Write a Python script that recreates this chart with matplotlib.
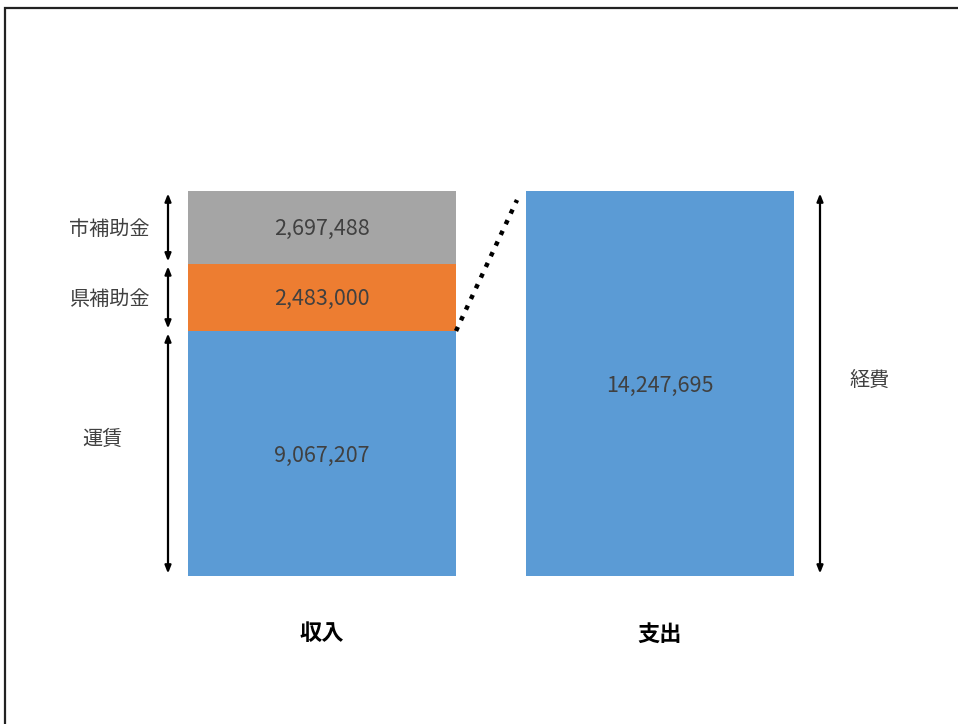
import matplotlib
matplotlib.use("Agg")
import matplotlib.pyplot as plt
from matplotlib.patches import Rectangle

plt.rcParams['font.family'] = ['Noto Sans CJK JP', 'DejaVu Sans']

# Data
categories = ["収入", "支出"]
income_items = ["運賃", "県補助金", "市補助金"]
income_values = [9067207, 2483000, 2697488]
income_colors = ["#5B9BD5", "#ED7D31", "#A5A5A5"]
expense_items = ["経費"]
expense_values = [14247695]
expense_colors = ["#5B9BD5"]

W, H = 958, 724
fig = plt.figure(figsize=(W / 100, H / 100), dpi=100)
ax = fig.add_axes([0, 0, 1, 1])
ax.axis("off")

total = sum(expense_values)
# pixel geometry of the plotting region
bar_w = 268 / 338
px_per_unit_x = 338
x0_px = 322
bottom_px, top_px = 576, 191
units_per_px_y = total / (bottom_px - top_px)
ax.set_xlim(-x0_px / px_per_unit_x, (W - x0_px) / px_per_unit_x)
ax.set_ylim(-(H - bottom_px) * units_per_px_y, total + top_px * units_per_px_y)

xs = [0, 1]

def fmt(v):
    return f"{v:,}"

VALUE_FS = 15.5
LABEL_FS = 14.5
TEXT_COLOR = "#404040"
text_drop = 2 * units_per_px_y  # nudge glyphs onto the visual centre

# Income stack
bottom = 0
bounds = []
for name, val, col in zip(income_items, income_values, income_colors):
    ax.bar(xs[0], val, bar_w, bottom=bottom, color=col, edgecolor="none")
    ax.text(xs[0], bottom + val / 2 - text_drop, fmt(val), ha="center",
            va="center", fontsize=VALUE_FS, color=TEXT_COLOR)
    bounds.append((bottom, bottom + val))
    bottom += val

# Expense stack
ebottom = 0
for name, val, col in zip(expense_items, expense_values, expense_colors):
    ax.bar(xs[1], val, bar_w, bottom=ebottom, color=col, edgecolor="none")
    ax.text(xs[1], ebottom + val / 2 - text_drop, fmt(val), ha="center",
            va="center", fontsize=VALUE_FS, color=TEXT_COLOR)
    ebottom += val

# Brackets with arrow heads
gap = 2.5 * units_per_px_y
left_x = xs[0] - bar_w / 2 - 20 / px_per_unit_x
label_centers = [102, 109, 109]
arrow_kw = dict(arrowstyle="<|-|>,head_length=0.45,head_width=0.18",
                color="black", lw=1.6, shrinkA=0, shrinkB=0)
label_offsets = [16 * units_per_px_y, 0, 0]
for (b0, b1), name, off, cx in zip(bounds, income_items, label_offsets, label_centers):
    ax.annotate("", xy=(left_x, b0 + gap), xytext=(left_x, b1 - gap),
                arrowprops=arrow_kw)
    ax.text((cx - x0_px) / px_per_unit_x, (b0 + b1) / 2 + off - text_drop, name,
            ha="center", va="center", fontsize=LABEL_FS, color=TEXT_COLOR)

right_x = xs[1] + bar_w / 2 + 26 / px_per_unit_x
ax.annotate("", xy=(right_x, gap), xytext=(right_x, total - gap),
            arrowprops=arrow_kw)
ax.text(xs[1] + bar_w / 2 + 76 / px_per_unit_x, total / 2 + 3 * units_per_px_y,
        expense_items[0], ha="center", va="center", fontsize=LABEL_FS,
        color=TEXT_COLOR)

# Dotted connector from fare top to expense bar
ax.plot([xs[0] + bar_w / 2, xs[1] - bar_w / 2 - 9 / px_per_unit_x],
        [bounds[0][1], total - 9 * units_per_px_y],
        linestyle=":", color="black", lw=3.2)

# Category labels
for x, c in zip(xs, categories):
    ax.text(x, -58 * units_per_px_y, c, ha="center", va="center",
            fontsize=16, fontweight="bold", color="black")

# Outer frame
fig.patches.append(Rectangle((4.5 / W, 1 - 8 / H - 2), 3, 2,
                             transform=fig.transFigure, fill=False,
                             edgecolor="#222222", lw=1.6))

fig.savefig("out.png", dpi=100)
